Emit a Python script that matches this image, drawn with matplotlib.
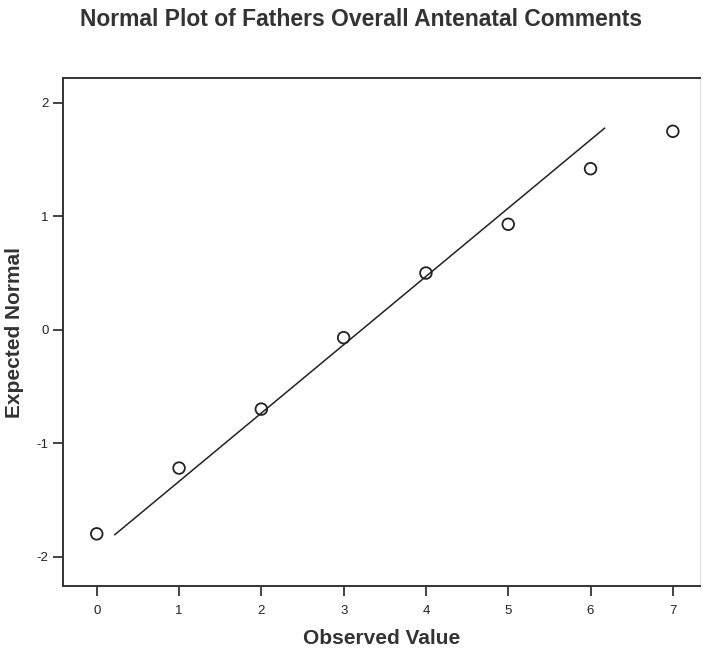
import numpy as np
import matplotlib.pyplot as plt
from matplotlib.ticker import FuncFormatter

plt.rcParams['font.family'] = ['Liberation Sans', 'DejaVu Sans']

# observed values and expected normal scores
observed = [0, 1, 2, 3, 4, 5, 6, 7]
expected = [-1.80, -1.22, -0.70, -0.07, 0.50, 0.93, 1.42, 1.75]

# reference line (expected = (x - mean) / sd)
line_mean = 3.22
line_sd = 1.66
line_x = [0.22, 6.17]

W, H = 703, 653
fig = plt.figure(figsize=(W / 100, H / 100), dpi=100)
ax = fig.add_axes([63 / W, 1 - 586 / H, (700 - 63) / W, (586 - 78) / H])

lx = np.array(line_x)
ax.plot(lx, (lx - line_mean) / line_sd, color='#222222', lw=1.1)
ax.scatter(observed, expected, s=70, facecolors='none', edgecolors='#222222', linewidths=1.3, zorder=3)

ax.set_xlim(-0.41, 7.33)
ax.set_ylim(-2.26, 2.22)
ax.set_xticks(range(0, 8))
ax.set_yticks([-2, -1, 0, 1, 2])
ax.yaxis.set_major_formatter(FuncFormatter(lambda v, p: '%d' % v))
ax.tick_params(direction='out', length=7.5, width=1.2, labelsize=9.5, colors='#222222')
ax.tick_params(axis='x', pad=6)
ax.tick_params(axis='y', pad=3)

for s in ['left', 'bottom', 'top']:
    ax.spines[s].set_linewidth(1.4)
    ax.spines[s].set_color('#333333')
ax.spines['right'].set_color('#dddddd')

ax.set_xlabel('Observed Value', fontsize=15, fontweight='bold', color='#333333', labelpad=9)
ax.set_ylabel('Expected Normal', fontsize=15, fontweight='bold', color='#333333', labelpad=9)
fig.text(361 / W, 1 - 19 / H, 'Normal Plot of Fathers Overall Antenatal Comments',
         ha='center', va='center', fontsize=16.5, fontweight='bold', color='#333333')

fig.savefig('out.png', dpi=100)
